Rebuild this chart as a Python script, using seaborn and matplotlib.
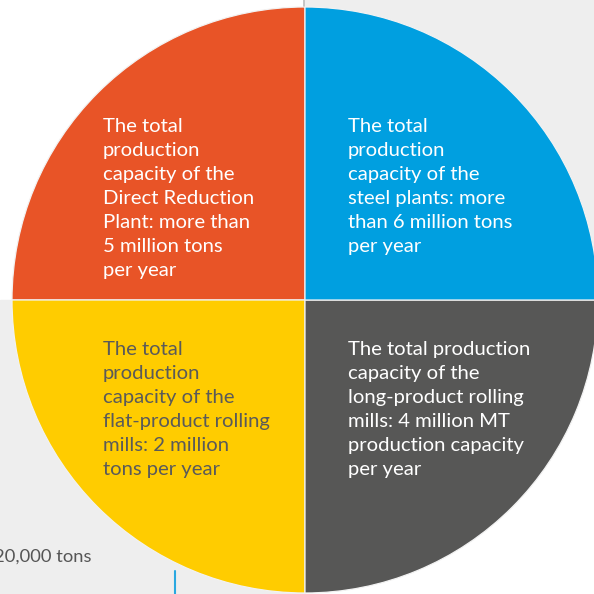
import matplotlib
matplotlib.use("Agg")
import matplotlib.pyplot as plt
from matplotlib.patches import Rectangle
import seaborn as sns

# plant capacity infographic: four equal quarters, one per plant type
plants = ["Direct Reduction Plant", "flat-product rolling mills",
          "long-product rolling mills", "steel plants"]
shares = [25, 25, 25, 25]
colors = ["#e85427", "#ffcc00", "#575756", "#009fe0"]
text_colors = ["white", "#5a5a5a", "white", "white"]
labels = [
    ["The total", "production", "capacity of the", "Direct Reduction",
     "Plant: more than", "5 million tons", "per year"],
    ["The total", "production", "capacity of the", "flat-product rolling",
     "mills: 2 million", "tons per year"],
    ["The total production", "capacity of the", "long-product rolling",
     "mills: 4 million MT", "production capacity", "per year"],
    ["The total", "production", "capacity of the", "steel plants: more",
     "than 6 million tons", "per year"],
]
side_note = "20,000 tons"

sns.set_theme(style="white")
plt.rcParams["font.family"] = ["Lato", "DejaVu Sans"]

W = 594
fig = plt.figure(figsize=(5.94, 5.94), dpi=100)
ax = fig.add_axes([0, 0, 1, 1])

# background panels (white / light grey checker)
bg = "#eeeeee"
ax.add_patch(Rectangle((305, 294), 300, 300, color=bg, zorder=0))
ax.add_patch(Rectangle((0, 0), 305, 294, color=bg, zorder=0))

cx, cy, r = 305, 294, 293
ax.pie(shares, colors=colors, startangle=90, counterclock=True,
       center=(cx, cy), radius=r, frame=True,
       wedgeprops=dict(edgecolor="#f2f2f2", linewidth=0.9))

# text blocks: first baseline of each block (pixel coords, y down)
anchors = [(103, 132), (103, 355), (348, 355), (348, 132)]
for lines, (tx, ty), tc in zip(labels, anchors, text_colors):
    for i, line in enumerate(lines):
        ax.text(tx, W - (ty + 24 * i), line, color=tc, fontsize=14.6,
                ha="left", va="baseline", zorder=5)

ax.text(-6, W - 562, side_note, color="#555555", fontsize=13.2,
        ha="left", va="baseline")
ax.plot([175, 175], [W - 571, 0], color="#29a8e0", linewidth=1.5)
ax.plot([304, 304], [W, W - 6], color="#bbbbbb", linewidth=1.2)

ax.set_xlim(0, W)
ax.set_ylim(0, W)
ax.set_aspect("equal")
ax.axis("off")

fig.savefig("out.png", dpi=100)
